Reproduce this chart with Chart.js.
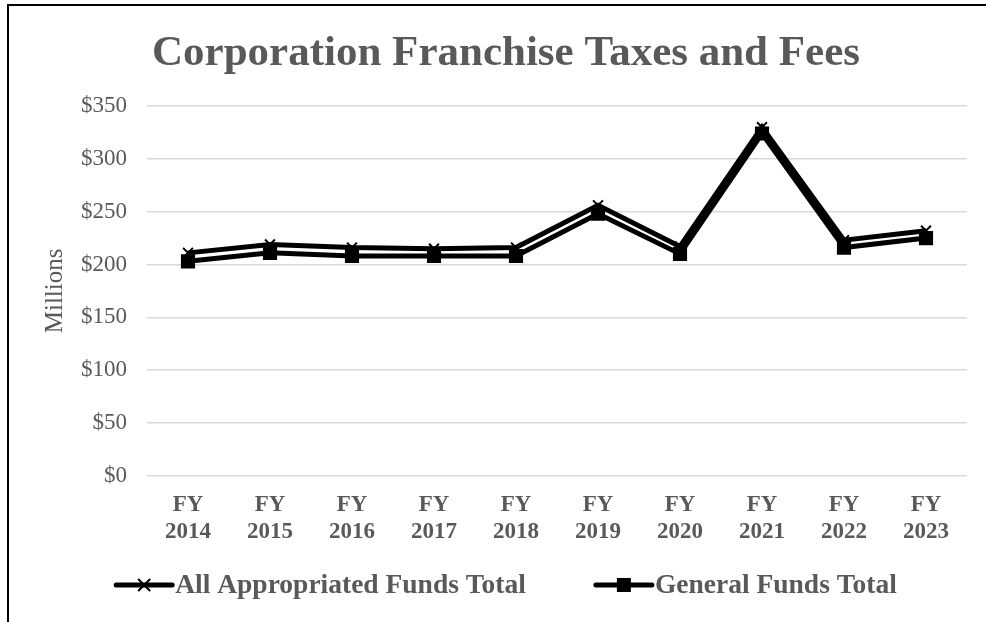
<!DOCTYPE html>
<html>
<head>
<meta charset="utf-8">
<script src="https://cdn.jsdelivr.net/npm/chart.js@4.4.1/dist/chart.umd.min.js"></script>
<style>
  html, body { margin: 0; padding: 0; background: #fff; overflow: hidden; }
  #wrap { position: relative; width: 986px; height: 622px; }
  #frame { position: absolute; left: 7px; top: 4px; width: 1000px; height: 640px; border: 2px solid #000; box-sizing: border-box; pointer-events: none; }
  canvas { position: absolute; left: 0; top: 0; }
</style>
</head>
<body>
<div id="wrap">
  <canvas id="chart" width="986" height="622"></canvas>
  <div id="frame"></div>
</div>
<script>
const years = ['2014', '2015', '2016', '2017', '2018', '2019', '2020', '2021', '2022', '2023'];
const allFunds = [211, 219, 216, 215, 216, 256, 217, 330, 223, 232];
const generalFunds = [203, 211, 208, 208, 208, 248, 210, 324, 216, 225];
const yTicks = [0, 50, 100, 150, 200, 250, 300, 350];

const grey = '#595959';
const serif = "'Liberation Serif', 'Times New Roman', serif";
const titleText = 'Corporation Franchise Taxes and Fees';

// title and legend drawn by hand so they sit where the original has them
const decorPlugin = {
  id: 'decor',
  afterDraw(chart) {
    const ctx = chart.ctx;
    ctx.save();
    ctx.fillStyle = grey;
    ctx.textAlign = 'center';
    ctx.textBaseline = 'alphabetic';
    ctx.font = 'bold 43px ' + serif;
    ctx.fillText(titleText, 506, 65);

    ctx.font = 'bold 27.5px ' + serif;
    const icon = 62, gap = 67;
    const items = chart.data.datasets.map((ds, i) => ({ ds, i, w: icon + ctx.measureText(ds.label).width }));
    const total = items.reduce((s, it) => s + it.w, 0) + gap * (items.length - 1);
    let x = 505 - total / 2;
    const y = 585;
    ctx.textAlign = 'left';
    ctx.textBaseline = 'middle';
    items.forEach(it => {
      ctx.strokeStyle = '#000';
      ctx.lineWidth = 5;
      ctx.lineCap = 'round';
      ctx.beginPath(); ctx.moveTo(x + 3, y); ctx.lineTo(x + icon - 3, y); ctx.stroke();
      const cx = x + icon / 2;
      if (it.i === 0) {
        ctx.lineWidth = 2;
        ctx.lineCap = 'butt';
        ctx.beginPath();
        ctx.moveTo(cx - 6, y - 6); ctx.lineTo(cx + 6, y + 6);
        ctx.moveTo(cx + 6, y - 6); ctx.lineTo(cx - 6, y + 6);
        ctx.stroke();
      } else {
        ctx.fillStyle = '#000';
        ctx.fillRect(cx - 7, y - 7, 14, 14);
      }
      ctx.fillStyle = grey;
      ctx.fillText(it.ds.label, x + icon, y + 1);
      x += it.w + gap;
    });
    ctx.restore();
  }
};

new Chart(document.getElementById('chart'), {
  type: 'line',
  data: {
    labels: years.map(y => ['FY', y]),
    datasets: [
      {
        label: 'All Appropriated Funds Total',
        data: allFunds,
        borderColor: '#000',
        backgroundColor: '#000',
        borderWidth: 5,
        pointStyle: 'crossRot',
        pointRadius: 7,
        pointBorderWidth: 2,
        tension: 0,
        order: 1
      },
      {
        label: 'General Funds Total',
        data: generalFunds,
        borderColor: '#000',
        backgroundColor: '#000',
        borderWidth: 5,
        pointStyle: 'rect',
        pointRadius: 10,
        pointBorderWidth: 0,
        tension: 0,
        order: 0
      }
    ]
  },
  options: {
    responsive: false,
    animation: false,
    layout: { padding: { top: 106, left: 20, right: 19, bottom: 69 } },
    scales: {
      x: {
        offset: true,
        grid: { display: false },
        border: { display: false },
        ticks: { color: grey, font: { family: serif, size: 23, weight: 'bold' }, padding: 7, maxRotation: 0 }
      },
      y: {
        min: 0,
        max: 350,
        afterBuildTicks: axis => { axis.ticks = yTicks.map(v => ({ value: v })); },
        grid: { color: '#d9d9d9', lineWidth: 1.5, drawTicks: false },
        border: { display: false },
        ticks: { color: grey, font: { family: serif, size: 23 }, padding: 20, callback: v => '$' + v },
        title: { display: true, text: 'Millions', color: grey, font: { family: serif, size: 25 }, padding: { top: 20, bottom: -9 } }
      }
    },
    plugins: {
      legend: { display: false },
      tooltip: { enabled: false }
    }
  },
  plugins: [decorPlugin]
});
</script>
</body>
</html>
